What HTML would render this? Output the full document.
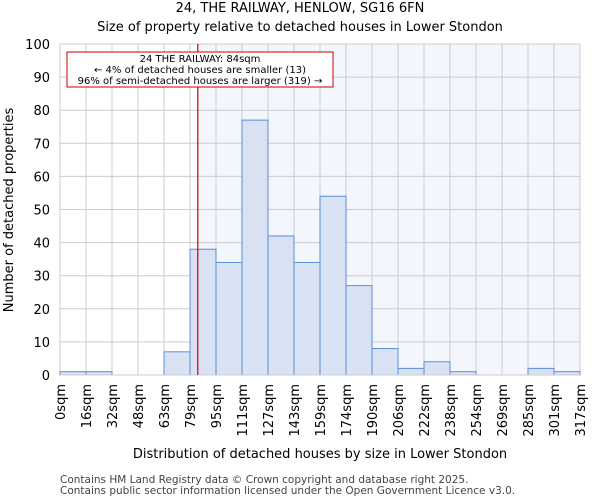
<!DOCTYPE html>
<html><head><meta charset="utf-8"><style>
body{margin:0;background:#fff;font-family:"DejaVu Sans","Liberation Sans",sans-serif;}
</style></head><body>
<svg id="chart" width="600" height="500" xmlns="http://www.w3.org/2000/svg" font-family="DejaVu Sans, Liberation Sans, sans-serif">
<text x="300" y="12" text-anchor="middle" font-size="13">24, THE RAILWAY, HENLOW, SG16 6FN</text>
<text x="300" y="31" text-anchor="middle" font-size="13">Size of property relative to detached houses in Lower Stondon</text>
<g id="plot"></g>
<text x="320" y="458" text-anchor="middle" font-size="13">Distribution of detached houses by size in Lower Stondon</text>
<text transform="translate(13,210) rotate(-90)" text-anchor="middle" font-size="13">Number of detached properties</text>
<text x="60" y="483" font-size="10.5" fill="#444">Contains HM Land Registry data © Crown copyright and database right 2025.</text>
<text x="60" y="494" font-size="10.5" fill="#444">Contains public sector information licensed under the Open Government Licence v3.0.</text>
</svg>
<script>
const categories=["0sqm","16sqm","32sqm","48sqm","63sqm","79sqm","95sqm","111sqm","127sqm","143sqm","159sqm","174sqm","190sqm","206sqm","222sqm","238sqm","254sqm","269sqm","285sqm","301sqm","317sqm"];
const counts=[1,1,0,0,7,38,34,77,42,34,54,27,8,2,4,1,0,0,2,1];
const yTicks=[0,10,20,30,40,50,60,70,80,90,100];
const markerValue=84;
const maxSqm=317;
const NS="http://www.w3.org/2000/svg";
const g=document.getElementById('plot');
const X0=60,X1=580,Y0=375,Y1=44;
const bw=(X1-X0)/counts.length;
const xb=i=>X0+i*bw;
const y=v=>Y0-(v/100)*(Y0-Y1);
const xs=v=>X0+(v/maxSqm)*(X1-X0);
function mk(t,a){const e=document.createElementNS(NS,t);for(const k in a)e.setAttribute(k,a[k]);g.appendChild(e);return e;}
const mx=xs(markerValue);
let e=mk('rect',{x:mx,y:Y1,width:X1-mx,height:Y0-Y1,fill:'#f3f6fd'});


yTicks.forEach(t=>{
 let l=mk('line',{x1:X0,x2:X1,y1:y(t),y2:y(t),stroke:'#ccc','stroke-width':1});
 
 
 let tx=mk('text',{x:X0-10,y:y(t)+5,'text-anchor':'end','font-size':13});
 tx.textContent=t;
 
 
});
categories.forEach((c,i)=>{
 const x=xb(i);
 let l=mk('line',{x1:x,x2:x,y1:Y1,y2:Y0,stroke:'#ccc','stroke-width':1});
 
 
 let tx=mk('text',{transform:`translate(${x+5},384) rotate(-90)`,'text-anchor':'end','font-size':13});
 tx.textContent=c;
 
 
});
counts.forEach((v,i)=>{
 if(v<=0)return;
 let r=mk('rect',{x:xb(i),y:y(v),width:bw,height:Y0-y(v),fill:'#d9e2f3',stroke:'#5b8dd6','stroke-width':1});
 
 
});
let ax=mk('line',{x1:X0,x2:X1,y1:Y0,y2:Y0,stroke:'#ccc','stroke-width':1});


let rl=mk('line',{x1:mx,x2:mx,y1:Y1,y2:Y0,stroke:'#cc0000','stroke-width':1.2});


let box=mk('rect',{x:67,y:52,width:266,height:35,fill:'#fff',stroke:'#cc0000','stroke-width':1});


["24 THE RAILWAY: 84sqm","← 4% of detached houses are smaller (13)","96% of semi-detached houses are larger (319) →"].forEach((s,i)=>{
 let t=mk('text',{x:200,y:62+i*11,'text-anchor':'middle','font-size':10});
 t.textContent=s;
 
 
});
</script>
</body></html>
